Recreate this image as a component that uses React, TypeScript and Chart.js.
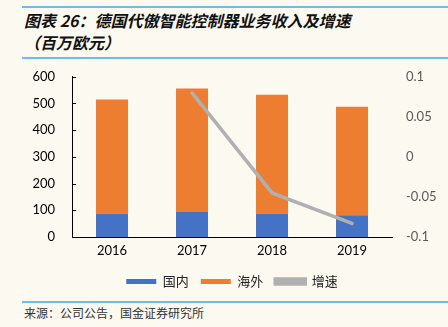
import React, { useEffect, useRef } from "react";
import { Chart, registerables } from "chart.js";

Chart.register(...registerables);

const categories = ["2016", "2017", "2018", "2019"];
const domestic = [87, 94, 88, 81];
const overseas = [428, 462, 445, 407];
const growth: (number | null)[] = [null, 0.08, -0.045, -0.083];
const seriesNames = ["国内", "海外", "增速"];

const innerTicks = {
  id: "innerTicks",
  afterDraw(chart: any) {
    const y = chart.scales.y;
    const ctx = chart.ctx;
    ctx.save();
    ctx.strokeStyle = "#000";
    ctx.lineWidth = 1;
    y.ticks.forEach((t: any) => {
      const py = Math.round(y.getPixelForValue(t.value)) + 0.5;
      ctx.beginPath();
      ctx.moveTo(y.right, py);
      ctx.lineTo(y.right + 4, py);
      ctx.stroke();
    });
    ctx.restore();
  },
};

const numFont = { family: "Lato, 'Open Sans', sans-serif", size: 13 };

export default function App() {
  const ref = useRef<HTMLCanvasElement>(null);
  useEffect(() => {
    document.body.style.margin = "0";
    const chart = new Chart(ref.current!, {
      type: "bar",
      data: {
        labels: categories,
        datasets: [
          {
            label: seriesNames[0],
            data: domestic,
            backgroundColor: "#4472C4",
            borderWidth: 0,
            barPercentage: 0.4,
            categoryPercentage: 1,
            yAxisID: "y",
            order: 1,
          },
          {
            label: seriesNames[1],
            data: overseas,
            backgroundColor: "#ED7D31",
            borderWidth: 0,
            barPercentage: 0.4,
            categoryPercentage: 1,
            yAxisID: "y",
            order: 1,
          },
          {
            type: "line",
            label: seriesNames[2],
            data: growth,
            borderColor: "#B0B0B0",
            backgroundColor: "#B0B0B0",
            borderWidth: 3.5,
            pointRadius: 0,
            borderCapStyle: "round",
            yAxisID: "y1",
            order: 0,
          } as any,
        ],
      },
      options: {
        responsive: false,
        animation: false,
        layout: { padding: { top: 0, bottom: 0, left: 0, right: 0 } },
        plugins: {
          tooltip: { enabled: false },
          legend: {
            position: "bottom",
            fullSize: false,
            labels: {
              boxWidth: 30,
              boxHeight: 5,
              padding: 12,
              color: "#222",
              font: { family: "'Noto Sans CJK SC', sans-serif", size: 13 },
              sort: (a: any, b: any) => a.datasetIndex - b.datasetIndex,
            },
          },
        },
        scales: {
          x: {
            stacked: true,
            grid: { display: false, drawTicks: false },
            border: { display: true, color: "#000", width: 1 },
            ticks: { color: "#000", font: numFont, padding: 6 },
            afterFit: (s: any) => {
              s.height = 26;
            },
          },
          y: {
            stacked: true,
            position: "left",
            min: 0,
            max: 600,
            ticks: { stepSize: 100, color: "#000", font: numFont, padding: 17 },
            grid: { display: false, drawTicks: false },
            border: { display: true, color: "#000", width: 1 },
            afterFit: (s: any) => {
              s.width = 72;
            },
          },
          y1: {
            position: "right",
            min: -0.1,
            max: 0.1,
            ticks: {
              stepSize: 0.05,
              color: "#595959",
              font: numFont,
              padding: 14,
              callback: (v: any) => String(Number(Number(v).toFixed(3))),
            },
            grid: { display: false, drawTicks: false },
            border: { display: false },
            afterFit: (s: any) => {
              s.width = 56;
            },
          },
        },
      },
      plugins: [innerTicks],
    });
    return () => chart.destroy();
  }, []);

  return (
    <div
      style={{
        position: "fixed",
        left: 0,
        top: 0,
        width: 448,
        height: 327,
        background: "#FCF9F0",
        overflow: "hidden",
      }}
    >
      <div style={{ position: "absolute", left: 22, right: 0, top: 6, height: 2, background: "#69BFE8" }} />
      <div
        style={{
          position: "absolute",
          left: 24,
          top: 9,
          fontFamily: "'Noto Sans CJK SC', sans-serif",
          fontWeight: "bold",
          fontStyle: "italic",
          fontSize: 16,
          lineHeight: "22px",
          color: "#111",
          whiteSpace: "nowrap",
        }}
      >
        <div>图表 26：德国代傲智能控制器业务收入及增速</div>
        <div>（百万欧元）</div>
      </div>
      <div style={{ position: "absolute", left: 22, right: 0, top: 57, height: 2, background: "#69BFE8" }} />
      <canvas
        ref={ref}
        width={448}
        height={246}
        style={{ position: "absolute", left: 0, top: 52, width: 448, height: 246 }}
      />
      <div style={{ position: "absolute", left: 22, right: 0, top: 301, height: 2, background: "#69BFE8" }} />
      <div
        style={{
          position: "absolute",
          left: 24,
          top: 305,
          fontFamily: "'Noto Sans CJK SC', sans-serif",
          fontSize: 12,
          lineHeight: "16px",
          color: "#333",
          whiteSpace: "nowrap",
        }}
      >
        来源：公司公告，国金证券研究所
      </div>
    </div>
  );
}
